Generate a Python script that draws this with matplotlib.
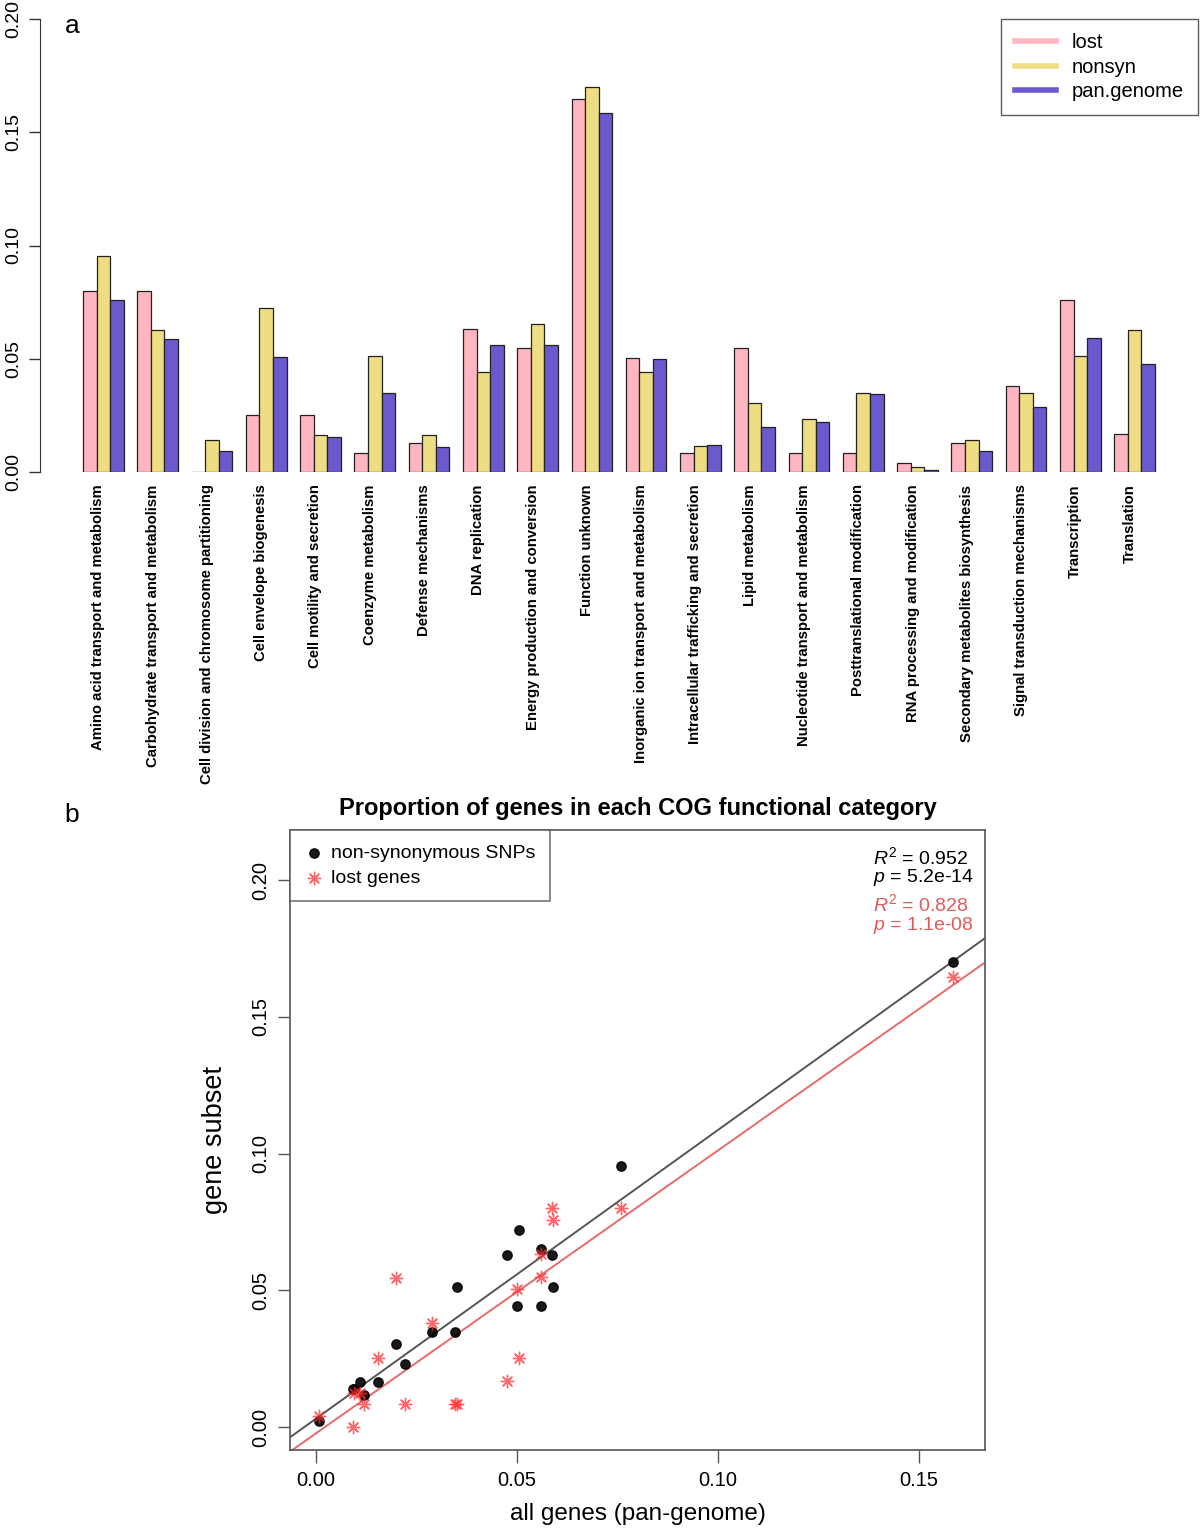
import numpy as np
import matplotlib.pyplot as plt
from matplotlib.lines import Line2D
from matplotlib import transforms

plt.rcParams['font.family'] = ['Liberation Sans', 'DejaVu Sans']
plt.rcParams['mathtext.fontset'] = 'custom'
plt.rcParams['mathtext.it'] = 'Liberation Sans:italic'
plt.rcParams['mathtext.rm'] = 'Liberation Sans'

# COG categories and proportions
categories = ['Amino acid transport and metabolism', 'Carbohydrate transport and metabolism',
              'Cell division and chromosome partitioning', 'Cell envelope biogenesis',
              'Cell motility and secretion', 'Coenzyme metabolism', 'Defense mechanisms',
              'DNA replication', 'Energy production and conversion', 'Function unknown',
              'Inorganic ion transport and metabolism', 'Intracellular trafficking and secretion',
              'Lipid metabolism', 'Nucleotide transport and metabolism',
              'Posttranslational modification', 'RNA processing and modification',
              'Secondary metabolites biosynthesis', 'Signal transduction mechanisms',
              'Transcription', 'Translation']
lost = [0.0801, 0.0801, 0.0, 0.0253, 0.0253, 0.0084, 0.0126, 0.0632, 0.0549, 0.1647,
        0.0504, 0.0084, 0.0547, 0.0084, 0.0084, 0.0041, 0.0126, 0.0379, 0.0759, 0.0169]
nonsyn = [0.0954, 0.0628, 0.0140, 0.0722, 0.0163, 0.0512, 0.0163, 0.0443, 0.0653, 0.1700,
          0.0441, 0.0116, 0.0303, 0.0232, 0.0347, 0.0022, 0.0140, 0.0349, 0.0512, 0.0628]
pan_genome = [0.0760, 0.0587, 0.0093, 0.0506, 0.0154, 0.0350, 0.0110, 0.0559, 0.0559, 0.1584,
              0.0501, 0.0121, 0.0200, 0.0222, 0.0346, 0.0009, 0.0094, 0.0288, 0.0590, 0.0476]

c_lost = '#ffb6c1'
c_nonsyn = '#eedd82'
c_pan = '#6a5acd'

W, H = 1200, 1529
fig = plt.figure(figsize=(W / 100, H / 100), dpi=100)

# ---- panel a: grouped bars
ax1 = fig.add_axes([40 / W, 1 - 472 / H, 1158 / W, 453 / H])
grp = np.arange(len(categories)) * 4 + 1
ax1.bar(grp + 0.5, lost, width=1, color=c_lost, edgecolor='#222222', linewidth=0.9)
ax1.bar(grp + 1.5, nonsyn, width=1, color=c_nonsyn, edgecolor='#222222', linewidth=0.9)
ax1.bar(grp + 2.5, pan_genome, width=1, color=c_pan, edgecolor='#222222', linewidth=0.9)
ax1.set_xlim(-2.17, 83.17)
ax1.set_ylim(0, 0.2)
for s in ['top', 'right', 'bottom']:
    ax1.spines[s].set_visible(False)
ax1.spines['left'].set_bounds(0, 0.2)
ax1.spines['left'].set_color('#333333')
yt = [0.0, 0.05, 0.10, 0.15, 0.20]
ax1.set_yticks(yt, [f'{v:.2f}' for v in yt])
ax1.tick_params(axis='y', length=8, width=1, color='#333333', labelsize=14,
                labelrotation=90, pad=5)
for lbl in ax1.get_yticklabels():
    lbl.set_va('center')
ax1.set_xticks(grp + 1.5, categories, rotation=90, fontweight='bold', fontsize=10.7)
ax1.tick_params(axis='x', length=0, pad=9)
shift = transforms.ScaledTranslation(-5 / 100, 0, fig.dpi_scale_trans)
for lbl in ax1.get_xticklabels():
    lbl.set_transform(lbl.get_transform() + shift)

handles = [Line2D([], [], color=c, lw=4) for c in (c_lost, c_nonsyn, c_pan)]
leg1 = ax1.legend(handles, ['lost', 'nonsyn', 'pan.genome'], loc='upper right',
                  borderaxespad=0, fancybox=False, edgecolor='#333333', fontsize=14.5,
                  handlelength=2.0, handletextpad=0.8, borderpad=0.7, labelspacing=0.28)
leg1.get_frame().set_linewidth(1.0)
fig.text(72 / W, 1 - 26 / H, 'a', fontsize=19, ha='center', va='center')

# ---- panel b: scatter against pan-genome
ax2 = fig.add_axes([290 / W, 1 - 1450 / H, 695 / W, 620 / H])
ax2.scatter(pan_genome, nonsyn, s=45, color='black', alpha=0.9, zorder=3,
            label='non-synonymous SNPs')
ax2.scatter(pan_genome, lost, s=80, marker=(8, 2, 0), color='#ff2a2a', alpha=0.7,
            linewidths=1.0, zorder=4, label='lost genes')

m1, b1 = np.polyfit(pan_genome, nonsyn, 1)
m2, b2 = np.polyfit(pan_genome, lost, 1)
ax2.axline((0, b1), slope=m1, color='#555555', lw=1.4, zorder=2)
ax2.axline((0, b2), slope=m2, color='#e86a6a', lw=1.4, zorder=2)

ax2.set_xlim(-0.0064, 0.1664)
ax2.set_ylim(-0.0084, 0.2184)
xt = [0.0, 0.05, 0.10, 0.15]
ax2.set_xticks(xt, [f'{v:.2f}' for v in xt])
ax2.set_yticks(yt, [f'{v:.2f}' for v in yt])
for s in ax2.spines.values():
    s.set_color('#555555')
    s.set_linewidth(1.2)
ax2.tick_params(axis='both', length=9, width=1, color='#555555', labelsize=14.5)
ax2.tick_params(axis='x', pad=6)
ax2.tick_params(axis='y', labelrotation=90, pad=5)
for lbl in ax2.get_yticklabels():
    lbl.set_va('center')

ax2.set_xlabel('all genes (pan-genome)', fontsize=17.5)
ax2.xaxis.set_label_coords(0.5, -0.086)
ax2.set_ylabel('gene subset', fontsize=19.5, va='center')
ax2.yaxis.set_label_coords(-0.108, 0.5)

leg2 = ax2.legend(loc='upper left', borderaxespad=0, fancybox=False, edgecolor='#555555',
                  fontsize=14, handlelength=1.0, handletextpad=0.35, borderpad=0.75,
                  labelspacing=0.35)
leg2.get_frame().set_linewidth(1.2)

stat_fs = 14
ax2.text(0.839, 0.957, r'$R^2$ = 0.952', transform=ax2.transAxes, fontsize=stat_fs, va='center')
ax2.text(0.839, 0.9226, r'$p$ = 5.2e-14', transform=ax2.transAxes, fontsize=stat_fs, va='center')
ax2.text(0.839, 0.880, r'$R^2$ = 0.828', transform=ax2.transAxes, fontsize=stat_fs, va='center',
         color='#e05a5a')
ax2.text(0.839, 0.846, r'$p$ = 1.1e-08', transform=ax2.transAxes, fontsize=stat_fs, va='center',
         color='#e05a5a')

fig.text(637.5 / W, 1 - 809 / H, 'Proportion of genes in each COG functional category',
         fontsize=17, fontweight='bold', ha='center', va='center')
fig.text(72 / W, 1 - 815 / H, 'b', fontsize=19, ha='center', va='center')

fig.savefig('out.png', dpi=100)
